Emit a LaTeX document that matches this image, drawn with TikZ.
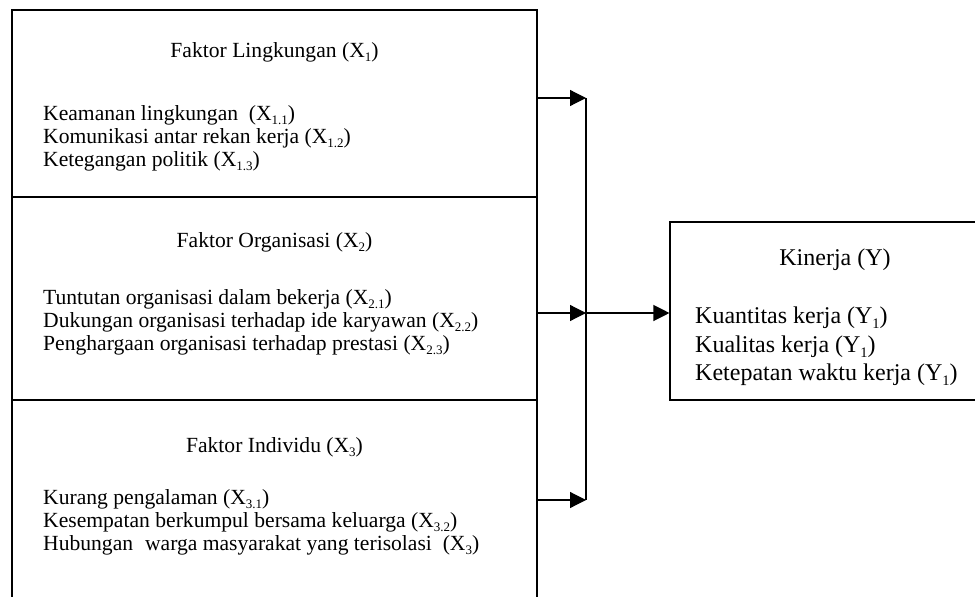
\documentclass[tikz,border=0pt]{standalone}
\usepackage{fontspec}
\setmainfont{Liberation Serif}
\usetikzlibrary{arrows.meta}
\newcommand{\sbx}[1]{\raisebox{-0.2em}[0pt][0pt]{\fontsize{13}{13}\selectfont #1}}
\newcommand{\sby}[1]{\raisebox{-0.22em}[0pt][0pt]{\fontsize{14.5}{14.5}\selectfont #1}}
\begin{document}
\begin{tikzpicture}[x=1pt,y=-1pt,
  box/.style={draw, line width=1.1pt, inner sep=0pt},
  ttl/.style={font=\fontsize{21.6}{24}\selectfont, inner sep=0pt, anchor=base, text height=15pt, text depth=3pt},
  lst/.style={font=\fontsize{21.6}{24}\selectfont, inner sep=0pt, anchor=base west, text height=15pt, text depth=3pt},
  ttk/.style={font=\fontsize{24}{28}\selectfont, inner sep=0pt, anchor=base, text height=17pt, text depth=4pt},
  lsk/.style={font=\fontsize{24}{28}\selectfont, inner sep=0pt, anchor=base west, text height=17pt, text depth=4pt},
  ln/.style={line width=1.2pt},
  arr/.style={line width=1.2pt, -{Triangle[length=16pt,width=16pt]}}]
\useasboundingbox (0,0) rectangle (975,597);
\clip (0,0) rectangle (975,597);
% boxes
\node[box, minimum width=525pt, minimum height=187pt] (f1) at (274.5,103.5) {};
\node[box, minimum width=525pt, minimum height=203pt] (f2) at (274.5,298.5) {};
\node[box, minimum width=525pt, minimum height=240pt] (f3) at (274.5,520) {};
\node[box, minimum width=340pt, minimum height=178pt] (kin) at (840,311) {};
% box 1 text
\node[ttl] (t1) at (274.5,57) {Faktor Lingkungan (X\sbx{1})};
\node[lst] (a1) at (43,120) {Keamanan lingkungan\hspace{0.25em} (X\sbx{1.1})};
\node[lst] (a2) at (43,143) {Komunikasi antar rekan kerja (X\sbx{1.2})};
\node[lst] (a3) at (43,166) {Ketegangan politik (X\sbx{1.3})};
% box 2 text
\node[ttl] (t2) at (274.5,247) {Faktor Organisasi (X\sbx{2})};
\node[lst] (b1) at (43,304) {Tuntutan organisasi dalam bekerja (X\sbx{2.1})};
\node[lst] (b2) at (43,327) {Dukungan organisasi terhadap ide karyawan (X\sbx{2.2})};
\node[lst] (b3) at (43,350) {Penghargaan organisasi terhadap prestasi (X\sbx{2.3})};
% box 3 text
\node[ttl] (t3) at (274.5,452) {Faktor Individu (X\sbx{3})};
\node[lst] (c1) at (43,504) {Kurang pengalaman (X\sbx{3.1})};
\node[lst] (c2) at (43,527) {Kesempatan berkumpul bersama keluarga (X\sbx{3.2})};
\node[lst] (c3) at (43,550) {Hubungan\hspace{0.3em} warga masyarakat yang terisolasi\hspace{0.25em} (X\sbx{3})};
% kinerja text
\node[ttk] (tk) at (835,265) {Kinerja (Y)};
\node[lsk] (k1) at (695,323) {Kuantitas kerja (Y\sby{1})};
\node[lsk] (k2) at (695,352) {Kualitas kerja (Y\sby{1})};
\node[lsk] (k3) at (695,380) {Ketepatan waktu kerja (Y\sby{1})};
% connectors
\coordinate (j1) at (586,98);
\coordinate (j2) at (586,313);
\coordinate (j3) at (586,500);
\draw[arr] (f1.east |- j1) -- (j1);
\draw[arr] (f2.east |- j2) -- (j2);
\draw[arr] (f3.east |- j3) -- (j3);
\draw[ln] (j1) -- (j3);
\draw[arr] (j2) -- (kin.west |- j2);
\end{tikzpicture}
\end{document}
